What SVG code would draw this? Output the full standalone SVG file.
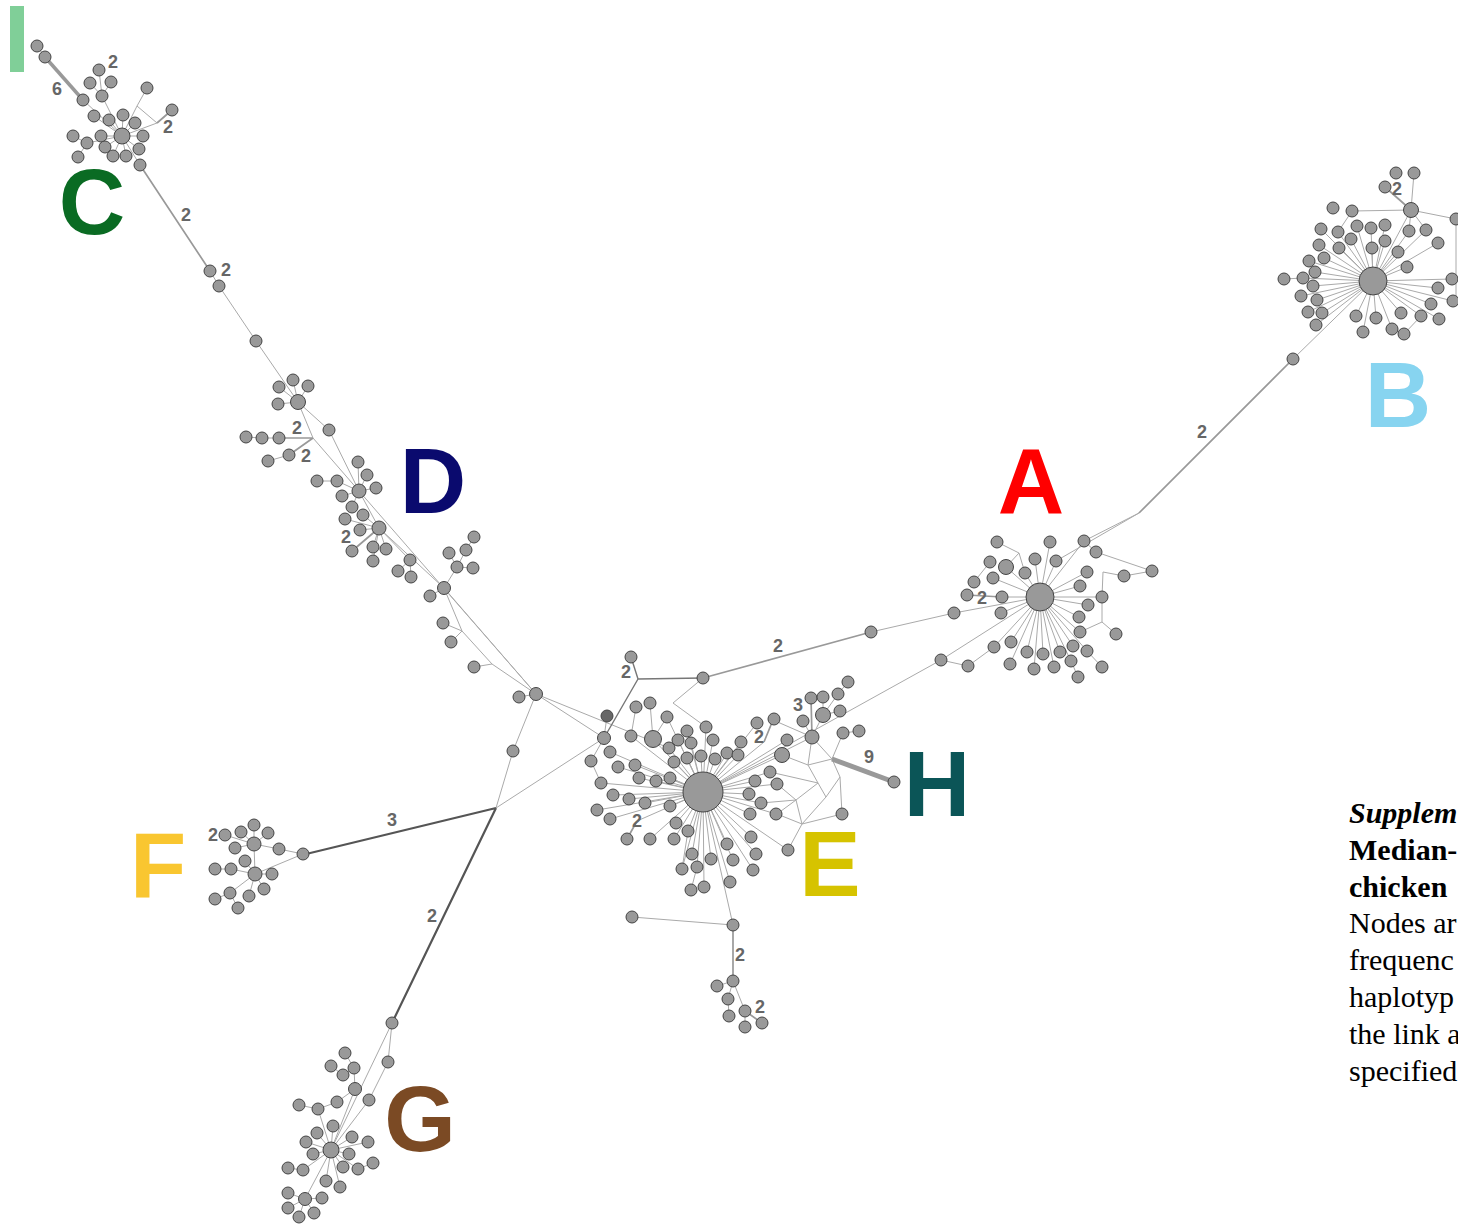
<svg xmlns="http://www.w3.org/2000/svg" width="1458" height="1225" viewBox="0 0 1458 1225">
<style>
.l{stroke:#aaa;stroke-width:1;fill:none}
.lm{stroke:#999;stroke-width:1.7;fill:none}
.lg{stroke:#777;stroke-width:1.4;fill:none}
.ld{stroke:#555;stroke-width:2.2;fill:none}
.lt{stroke:#999;stroke-width:3.5;fill:none}
.lh{stroke:#999;stroke-width:5;fill:none}
.n{fill:#999;stroke:#444;stroke-width:1}
.w{font-family:"Liberation Sans",Arial,sans-serif;font-weight:bold;font-size:18px;fill:#666;text-anchor:middle}
.big{font-family:"Liberation Sans",Arial,sans-serif;font-weight:bold;font-size:92px;text-anchor:middle}
.cap{font-family:"Liberation Serif","Times New Roman",serif;font-size:30px;fill:#000}
</style>
<rect width="1458" height="1225" fill="#fff"/>
<g id="connectors">
<!-- C -->
<path class="l" d="M37,46L45,57M83,100L122,136M99,70L102,96M90,83L102,96M111,82L102,96M102,96L122,136M122,136L94,116M122,136L109,120M122,136L123,115M122,136L135,123M122,136L101,136M122,136L143,136M122,136L87,143M122,136L105,147M122,136L139,149M122,136L113,156M122,136L126,156M122,136L140,165M73,136L87,143M78,157L87,143M147,88L137,106L157,123M137,106L122,136M122,136L157,123M210,271L219,286L256,341L298,402"/>
<path class="lt" d="M45,57L83,100"/>
<path class="lm" d="M157,123L172,110M140,165L210,271"/>
<!-- D -->
<path class="l" d="M298,402L279,387M298,402L293,380M298,402L308,386M298,402L278,404M298,402L329,430L359,491M298,402L313,438L359,491M279,438L262,438L246,437M289,455L268,461M359,491L358,462M359,491L367,475M359,491L376,488M359,491L337,481M359,491L342,496M359,491L352,507M317,481L337,481M359,491L379,528M379,528L363,515M379,528L345,519M379,528L360,530M379,528L373,547M379,528L386,549M379,528L373,561M379,528L444,588M359,491L536,694M379,528L410,560M410,560L398,571M410,560L411,577M444,588L430,596M444,588L457,567M457,567L449,553M457,567L466,550L474,537M457,567L473,568M444,588L536,694M444,588L462,631L492,664L536,694M462,631L443,623M462,631L451,642M492,664L474,667"/>
<path class="lm" d="M313,438L279,438M313,438L289,455M379,528L352,551"/>
<!-- central -->
<path class="l" d="M536,694L519,697M536,694L513,751L496,808M536,694L604,738M536,694L669,748M496,808L604,738M871,632L954,613L1040,597M703,678L673,703L706,727M941,660L703,792"/>
<path class="ld" d="M496,808L302,855M496,808L392,1023"/>
<path class="lg" d="M604,738L638,679L631,657M638,679L703,678"/>
<path class="lm" d="M703,678L871,632"/>
<!-- E -->
<path class="l" d="M703,792L687,731M703,792L706,727M703,792L691,743M703,792L713,740M703,792L741,742M703,792L678,740M703,792L669,748M703,792L674,762M703,792L687,758M703,792L701,756M703,792L715,759M703,792L727,753M703,792L738,755M703,792L770,772M703,792L777,784M703,792L755,781M703,792L639,778M703,792L656,781M703,792L670,778M703,792L601,783M703,792L613,795M703,792L629,799M703,792L645,803M703,792L670,806M703,792L749,794M703,792L761,803M703,792L676,823M703,792L688,831M703,792L750,814M703,792L776,814M703,792L674,839M703,792L751,837M703,792L727,844M703,792L692,854M703,792L711,859M703,792L733,860M703,792L756,854M703,792L697,867M703,792L682,869M703,792L753,870M703,792L704,887M703,792L730,882M703,792L788,850M703,792L764,742M703,792L757,723M703,792L653,739M703,792L618,767M703,792L610,752M703,792L635,765M703,792L597,810M703,792L610,819M703,792L650,839M703,792L812,737M703,792L782,755M703,792L787,740M703,792L631,736M703,792L667,717M607,716L604,738M636,707L631,736M650,703L653,739M667,717L653,739M591,761L604,738M601,783L591,761M691,890L697,867M682,869L688,831M703,792L637,821M703,792L733,925L733,925M632,917L733,925M823,697L823,715M848,682L838,694L823,715M840,711L823,715M823,715L812,737M803,721L812,737M773,720L812,737M812,737L832,759M843,733L832,759M859,731L843,733M812,737L808,765L832,759L840,777L842,814M808,765L818,783L826,797L840,777M818,783L796,800L777,814M796,800L802,824M826,797L802,824L842,814M802,824L777,814M782,755L808,765M770,772L818,783M777,784L796,800M761,803L796,800M802,824L788,850"/>
<path class="lm" d="M627,839L637,821M773,720L764,742M811,698L812,737"/>
<path class="lh" d="M832,759L894,782"/>
<!-- E bottom -->
<path class="l" d="M733,981L717,986M733,981L728,999L729,1016M733,981L745,1011M745,1011L745,1027"/>
<path class="lm" d="M733,925L733,981M745,1011L762,1023"/>
<!-- A -->
<path class="l" d="M1040,597L1035,559M1040,597L1050,542M1040,597L1056,561M1040,597L1025,573M1040,597L1006,567M1040,597L993,578M1040,597L1002,597M1040,597L1001,613M1040,597L1080,586M1040,597L1087,572M1040,597L1084,541M1040,597L1088,605M1040,597L1079,617M1040,597L1080,632M1040,597L994,647M1040,597L1011,642M1040,597L1027,652M1040,597L1043,654M1040,597L1060,652M1040,597L1073,646M1040,597L1087,651M1040,597L1010,664M1040,597L1034,669M1040,597L1054,667M1040,597L1071,661M1040,597L1102,597M1040,597L941,660M997,542L1019,553L1025,573M1019,553L1006,567M990,562L974,582M1102,597L1103,572L1124,576L1152,571M1102,597L1102,622L1116,634M1080,632L1102,622M1078,677L1071,661M1102,667L1087,651M941,660L968,666L994,647M1096,552L1152,571M1139,513L1084,541M1139,513L1056,561M1084,541L1096,552M1293,359L1373,281"/>
<path class="lm" d="M967,595L1002,597M1139,513L1293,359"/>
<!-- B -->
<path class="l" d="M1373,281L1411,210M1373,281L1321,229M1373,281L1338,232M1373,281L1357,226M1373,281L1371,228M1373,281L1385,225M1373,281L1409,231M1373,281L1426,230M1373,281L1351,239M1373,281L1385,241M1373,281L1438,243M1373,281L1319,245M1373,281L1339,248M1373,281L1372,248M1373,281L1398,252M1373,281L1309,261M1373,281L1324,258M1373,281L1315,272M1373,281L1407,267M1373,281L1303,278M1373,281L1313,286M1373,281L1452,279M1373,281L1438,288M1373,281L1301,296M1373,281L1317,300M1373,281L1453,301M1373,281L1431,304M1373,281L1308,312M1373,281L1322,313M1373,281L1356,316M1373,281L1376,318M1373,281L1401,313M1373,281L1421,316M1373,281L1439,319M1373,281L1316,325M1373,281L1363,332M1373,281L1392,329M1411,210L1414,173M1411,210L1352,211M1411,210L1456,219M1411,210L1409,231M1411,210L1426,230M1352,211L1338,232M1284,279L1303,278M1392,329L1404,334L1421,316M1456,219L1456,300"/>
<path class="lm" d="M1385,187L1411,210"/>
<!-- F -->
<path class="l" d="M254,844L225,835M254,844L241,832M254,844L254,825M254,844L268,833M254,844L235,848M254,844L279,849L303,854M254,844L255,874M255,874L245,861M255,874L231,869L215,869M255,874L272,874M255,874L264,889M255,874L249,896M255,874L230,893L215,899M230,893L238,908M255,874L303,854"/>
<!-- G -->
<path class="l" d="M392,1023L388,1062L369,1100L331,1150M392,1023L331,1150M355,1089L354,1068L345,1053M354,1068L343,1075M331,1066L343,1075M355,1089L337,1102L318,1109L299,1105M318,1109L331,1150M355,1089L331,1150M331,1150L333,1126M331,1150L317,1133M331,1150L306,1142M331,1150L313,1154M331,1150L352,1137M331,1150L368,1142M331,1150L349,1154M331,1150L343,1167M331,1150L358,1169L373,1163M331,1150L326,1181M331,1150L340,1187M331,1150L303,1170L288,1168M331,1150L305,1199M305,1199L288,1193M305,1199L322,1198M305,1199L288,1208M305,1199L299,1217M305,1199L314,1213"/>
</g>
<g id="cluster-C">
<circle id="C01" class="n" cx="37" cy="46" r="6"/><circle id="C02" class="n" cx="45" cy="57" r="6"/><circle id="C03" class="n" cx="83" cy="100" r="6"/><circle id="C04" class="n" cx="99" cy="70" r="6"/><circle id="C05" class="n" cx="90" cy="83" r="6"/><circle id="C06" class="n" cx="111" cy="82" r="6"/><circle id="C07" class="n" cx="102" cy="96" r="6"/><circle id="C08" class="n" cx="94" cy="116" r="6"/><circle id="C09" class="n" cx="109" cy="120" r="6"/><circle id="C10" class="n" cx="123" cy="115" r="6"/><circle id="C11" class="n" cx="147" cy="88" r="6"/><circle id="C12" class="n" cx="172" cy="110" r="6"/><circle id="C13" class="n" cx="135" cy="123" r="6"/><circle id="C14" class="n" cx="101" cy="136" r="6"/><circle id="C15" class="n" cx="143" cy="136" r="6"/><circle id="C16" class="n" cx="73" cy="136" r="6"/><circle id="C17" class="n" cx="87" cy="143" r="6"/><circle id="C18" class="n" cx="105" cy="147" r="6"/><circle id="C19" class="n" cx="139" cy="149" r="6"/><circle id="C20" class="n" cx="78" cy="157" r="6"/><circle id="C21" class="n" cx="113" cy="156" r="6"/><circle id="C22" class="n" cx="126" cy="156" r="6"/><circle id="C23" class="n" cx="140" cy="165" r="6"/><circle id="C00" class="n" cx="122" cy="136" r="8"/>
<circle id="CD1" class="n" cx="210" cy="271" r="6"/><circle id="CD2" class="n" cx="219" cy="286" r="6"/><circle id="CD3" class="n" cx="256" cy="341" r="6"/>
</g>
<g id="cluster-D">
<circle id="D01" class="n" cx="279" cy="387" r="6"/><circle id="D02" class="n" cx="293" cy="380" r="6"/><circle id="D03" class="n" cx="308" cy="386" r="6"/><circle id="D04" class="n" cx="278" cy="404" r="6"/><circle id="D00" class="n" cx="298" cy="402" r="7.5"/><circle id="D05" class="n" cx="329" cy="430" r="6"/><circle id="D06" class="n" cx="246" cy="437" r="6"/><circle id="D07" class="n" cx="262" cy="438" r="6"/><circle id="D08" class="n" cx="279" cy="438" r="6"/><circle id="D09" class="n" cx="268" cy="461" r="6"/><circle id="D10" class="n" cx="289" cy="455" r="6"/><circle id="D11" class="n" cx="358" cy="462" r="6"/><circle id="D12" class="n" cx="367" cy="475" r="6"/><circle id="D13" class="n" cx="376" cy="488" r="6"/><circle id="D14" class="n" cx="317" cy="481" r="6"/><circle id="D15" class="n" cx="337" cy="481" r="6"/><circle id="D16" class="n" cx="359" cy="491" r="7"/><circle id="D17" class="n" cx="342" cy="496" r="6"/><circle id="D18" class="n" cx="352" cy="507" r="6"/><circle id="D19" class="n" cx="363" cy="515" r="6"/><circle id="D20" class="n" cx="345" cy="519" r="6"/><circle id="D21" class="n" cx="360" cy="530" r="6"/><circle id="D22" class="n" cx="379" cy="528" r="7"/><circle id="D23" class="n" cx="352" cy="551" r="6"/><circle id="D24" class="n" cx="373" cy="547" r="6"/><circle id="D25" class="n" cx="386" cy="549" r="6"/><circle id="D26" class="n" cx="373" cy="561" r="6"/><circle id="D27" class="n" cx="410" cy="560" r="6"/><circle id="D28" class="n" cx="398" cy="571" r="6"/><circle id="D29" class="n" cx="411" cy="577" r="6"/><circle id="D30" class="n" cx="444" cy="588" r="6.5"/><circle id="D31" class="n" cx="430" cy="596" r="6"/><circle id="D32" class="n" cx="474" cy="537" r="6"/><circle id="D33" class="n" cx="466" cy="550" r="6"/><circle id="D34" class="n" cx="449" cy="553" r="6"/><circle id="D35" class="n" cx="457" cy="567" r="6"/><circle id="D36" class="n" cx="473" cy="568" r="6"/><circle id="D37" class="n" cx="443" cy="623" r="6"/><circle id="D38" class="n" cx="451" cy="642" r="6"/><circle id="D39" class="n" cx="474" cy="667" r="6"/>
</g>
<g id="central">
<circle id="M1" class="n" cx="536" cy="694" r="6.5"/><circle id="M2" class="n" cx="519" cy="697" r="6"/><circle id="M3" class="n" cx="513" cy="751" r="6"/><circle id="M4" class="n" cx="631" cy="657" r="6"/><circle id="M5" class="n" cx="703" cy="678" r="6"/><circle id="M6" class="n" cx="871" cy="632" r="6"/>
</g>
<g id="cluster-E">
<circle id="E00" class="n" cx="703" cy="792" r="20"/>
<circle id="E01" cx="607" cy="716" r="6" fill="#666" stroke="#444"/>
<circle id="E02" class="n" cx="636" cy="707" r="6"/><circle id="E03" class="n" cx="650" cy="703" r="6"/><circle id="E04" class="n" cx="667" cy="717" r="6"/><circle id="E05" class="n" cx="604" cy="738" r="6.5"/><circle id="E06" class="n" cx="631" cy="736" r="6"/><circle id="E07" class="n" cx="653" cy="739" r="8.5"/><circle id="E08" class="n" cx="687" cy="731" r="6"/><circle id="E09" class="n" cx="678" cy="740" r="6"/><circle id="E10" class="n" cx="706" cy="727" r="6"/><circle id="E11" class="n" cx="691" cy="743" r="6"/><circle id="E12" class="n" cx="713" cy="740" r="6"/><circle id="E13" class="n" cx="741" cy="742" r="6"/><circle id="E14" class="n" cx="757" cy="723" r="6"/><circle id="E15" class="n" cx="774" cy="719" r="6"/><circle id="E16" class="n" cx="669" cy="748" r="6"/><circle id="E17" class="n" cx="610" cy="752" r="6"/><circle id="E18" class="n" cx="591" cy="761" r="6"/><circle id="E19" class="n" cx="674" cy="762" r="6"/><circle id="E20" class="n" cx="687" cy="758" r="6"/><circle id="E21" class="n" cx="701" cy="756" r="6"/><circle id="E22" class="n" cx="715" cy="759" r="6"/><circle id="E23" class="n" cx="727" cy="753" r="6"/><circle id="E24" class="n" cx="738" cy="755" r="6"/><circle id="E25" class="n" cx="618" cy="767" r="6"/><circle id="E26" class="n" cx="635" cy="765" r="6"/><circle id="E27" class="n" cx="639" cy="778" r="6"/><circle id="E28" class="n" cx="656" cy="781" r="6"/><circle id="E29" class="n" cx="670" cy="778" r="6"/><circle id="E30" class="n" cx="770" cy="772" r="6"/><circle id="E31" class="n" cx="777" cy="784" r="6"/><circle id="E32" class="n" cx="755" cy="781" r="6"/><circle id="E33" class="n" cx="601" cy="783" r="6"/><circle id="E34" class="n" cx="613" cy="795" r="6"/><circle id="E35" class="n" cx="629" cy="799" r="6"/><circle id="E36" class="n" cx="645" cy="803" r="6"/><circle id="E37" class="n" cx="670" cy="806" r="6"/><circle id="E38" class="n" cx="749" cy="794" r="6"/><circle id="E39" class="n" cx="761" cy="803" r="6"/><circle id="E40" class="n" cx="597" cy="810" r="6"/><circle id="E41" class="n" cx="610" cy="819" r="6"/><circle id="E42" class="n" cx="676" cy="823" r="6"/><circle id="E43" class="n" cx="688" cy="831" r="6"/><circle id="E44" class="n" cx="750" cy="814" r="6"/><circle id="E45" class="n" cx="776" cy="814" r="6"/><circle id="E46" class="n" cx="627" cy="839" r="6"/><circle id="E47" class="n" cx="650" cy="839" r="6"/><circle id="E48" class="n" cx="674" cy="839" r="6"/><circle id="E49" class="n" cx="751" cy="837" r="6"/><circle id="E50" class="n" cx="727" cy="844" r="6"/><circle id="E51" class="n" cx="692" cy="854" r="6"/><circle id="E52" class="n" cx="711" cy="859" r="6"/><circle id="E53" class="n" cx="733" cy="860" r="6"/><circle id="E54" class="n" cx="756" cy="854" r="6"/><circle id="E55" class="n" cx="697" cy="867" r="6"/><circle id="E56" class="n" cx="682" cy="869" r="6"/><circle id="E57" class="n" cx="753" cy="870" r="6"/><circle id="E58" class="n" cx="730" cy="882" r="6"/><circle id="E59" class="n" cx="691" cy="890" r="6"/><circle id="E60" class="n" cx="704" cy="887" r="6"/><circle id="E61" class="n" cx="788" cy="850" r="6"/>
<circle id="E62" class="n" cx="848" cy="682" r="6"/><circle id="E63" class="n" cx="838" cy="694" r="6"/><circle id="E64" class="n" cx="811" cy="698" r="6"/><circle id="E65" class="n" cx="823" cy="697" r="6"/><circle id="E66" class="n" cx="823" cy="715" r="7.5"/><circle id="E67" class="n" cx="840" cy="711" r="6"/><circle id="E68" class="n" cx="803" cy="721" r="6"/><circle id="E69" class="n" cx="812" cy="737" r="7"/><circle id="E70" class="n" cx="843" cy="733" r="6"/><circle id="E71" class="n" cx="859" cy="731" r="6"/><circle id="E72" class="n" cx="787" cy="740" r="6"/><circle id="E73" class="n" cx="782" cy="755" r="7.5"/><circle id="E74" class="n" cx="842" cy="814" r="6"/>
<circle id="E75" class="n" cx="632" cy="917" r="6"/><circle id="E76" class="n" cx="733" cy="925" r="6"/><circle id="E77" class="n" cx="733" cy="981" r="6"/><circle id="E78" class="n" cx="717" cy="986" r="6"/><circle id="E79" class="n" cx="728" cy="999" r="6"/><circle id="E80" class="n" cx="745" cy="1011" r="6"/><circle id="E81" class="n" cx="729" cy="1016" r="6"/><circle id="E82" class="n" cx="745" cy="1027" r="6"/><circle id="E83" class="n" cx="762" cy="1023" r="6"/>
</g>
<g id="cluster-H"><circle id="H01" class="n" cx="894" cy="782" r="6"/></g>
<g id="cluster-A">
<circle id="A00" class="n" cx="1040" cy="597" r="14"/>
<circle id="A01" class="n" cx="997" cy="542" r="6"/><circle id="A02" class="n" cx="1050" cy="542" r="6"/><circle id="A03" class="n" cx="1084" cy="541" r="6"/><circle id="A04" class="n" cx="1096" cy="552" r="6"/><circle id="A05" class="n" cx="990" cy="562" r="6"/><circle id="A06" class="n" cx="1006" cy="567" r="7.5"/><circle id="A07" class="n" cx="1035" cy="559" r="6"/><circle id="A08" class="n" cx="1056" cy="561" r="6"/><circle id="A09" class="n" cx="1025" cy="573" r="6"/><circle id="A10" class="n" cx="993" cy="578" r="6"/><circle id="A11" class="n" cx="974" cy="582" r="6"/><circle id="A12" class="n" cx="967" cy="595" r="6"/><circle id="A13" class="n" cx="1002" cy="597" r="6"/><circle id="A14" class="n" cx="1001" cy="613" r="6"/><circle id="A15" class="n" cx="954" cy="613" r="6"/><circle id="A16" class="n" cx="1087" cy="572" r="6"/><circle id="A17" class="n" cx="1080" cy="586" r="6"/><circle id="A18" class="n" cx="1124" cy="576" r="6"/><circle id="A19" class="n" cx="1152" cy="571" r="6"/><circle id="A20" class="n" cx="1102" cy="597" r="6"/><circle id="A21" class="n" cx="1088" cy="605" r="6"/><circle id="A22" class="n" cx="1079" cy="617" r="6"/><circle id="A23" class="n" cx="1080" cy="632" r="6"/><circle id="A24" class="n" cx="1116" cy="634" r="6"/><circle id="A25" class="n" cx="994" cy="647" r="6"/><circle id="A26" class="n" cx="1011" cy="642" r="6"/><circle id="A27" class="n" cx="1027" cy="652" r="6"/><circle id="A28" class="n" cx="1043" cy="654" r="6"/><circle id="A29" class="n" cx="1060" cy="652" r="6"/><circle id="A30" class="n" cx="1073" cy="646" r="6"/><circle id="A31" class="n" cx="1087" cy="651" r="6"/><circle id="A32" class="n" cx="1010" cy="664" r="6"/><circle id="A33" class="n" cx="1034" cy="669" r="6"/><circle id="A34" class="n" cx="1054" cy="667" r="6"/><circle id="A35" class="n" cx="1071" cy="661" r="6"/><circle id="A36" class="n" cx="1102" cy="667" r="6"/><circle id="A37" class="n" cx="1078" cy="677" r="6"/><circle id="A38" class="n" cx="968" cy="666" r="6"/><circle id="A39" class="n" cx="941" cy="660" r="6"/>
</g>
<g id="cluster-B">
<circle id="B00" class="n" cx="1373" cy="281" r="14"/><circle id="B01" class="n" cx="1411" cy="210" r="7.5"/>
<circle id="B02" class="n" cx="1396" cy="173" r="6"/><circle id="B03" class="n" cx="1414" cy="173" r="6"/><circle id="B04" class="n" cx="1385" cy="187" r="6"/><circle id="B05" class="n" cx="1333" cy="208" r="6"/><circle id="B06" class="n" cx="1352" cy="211" r="6"/><circle id="B07" class="n" cx="1456" cy="219" r="6"/><circle id="B08" class="n" cx="1321" cy="229" r="6"/><circle id="B09" class="n" cx="1338" cy="232" r="6"/><circle id="B10" class="n" cx="1357" cy="226" r="6"/><circle id="B11" class="n" cx="1371" cy="228" r="6"/><circle id="B12" class="n" cx="1385" cy="225" r="6"/><circle id="B13" class="n" cx="1409" cy="231" r="6"/><circle id="B14" class="n" cx="1426" cy="230" r="6"/><circle id="B15" class="n" cx="1351" cy="239" r="6"/><circle id="B16" class="n" cx="1385" cy="241" r="6"/><circle id="B17" class="n" cx="1438" cy="243" r="6"/><circle id="B18" class="n" cx="1319" cy="245" r="6"/><circle id="B19" class="n" cx="1339" cy="248" r="6"/><circle id="B20" class="n" cx="1372" cy="248" r="6"/><circle id="B21" class="n" cx="1398" cy="252" r="6"/><circle id="B22" class="n" cx="1309" cy="261" r="6"/><circle id="B23" class="n" cx="1324" cy="258" r="6"/><circle id="B24" class="n" cx="1315" cy="272" r="6"/><circle id="B25" class="n" cx="1407" cy="267" r="6"/><circle id="B26" class="n" cx="1284" cy="279" r="6"/><circle id="B27" class="n" cx="1303" cy="278" r="6"/><circle id="B28" class="n" cx="1313" cy="286" r="6"/><circle id="B29" class="n" cx="1452" cy="279" r="6"/><circle id="B30" class="n" cx="1438" cy="288" r="6"/><circle id="B31" class="n" cx="1301" cy="296" r="6"/><circle id="B32" class="n" cx="1317" cy="300" r="6"/><circle id="B33" class="n" cx="1453" cy="301" r="6"/><circle id="B34" class="n" cx="1431" cy="304" r="6"/><circle id="B35" class="n" cx="1308" cy="312" r="6"/><circle id="B36" class="n" cx="1322" cy="313" r="6"/><circle id="B37" class="n" cx="1356" cy="316" r="6"/><circle id="B38" class="n" cx="1376" cy="318" r="6"/><circle id="B39" class="n" cx="1401" cy="313" r="6"/><circle id="B40" class="n" cx="1421" cy="316" r="6"/><circle id="B41" class="n" cx="1439" cy="319" r="6"/><circle id="B42" class="n" cx="1316" cy="325" r="6"/><circle id="B43" class="n" cx="1363" cy="332" r="6"/><circle id="B44" class="n" cx="1392" cy="329" r="6"/><circle id="B45" class="n" cx="1404" cy="334" r="6"/>
<circle id="B46" class="n" cx="1293" cy="359" r="6"/>
</g>
<g id="cluster-F">
<circle id="F01" class="n" cx="225" cy="835" r="6"/><circle id="F02" class="n" cx="241" cy="832" r="6"/><circle id="F03" class="n" cx="254" cy="825" r="6"/><circle id="F04" class="n" cx="268" cy="833" r="6"/><circle id="F00" class="n" cx="254" cy="844" r="7"/><circle id="F05" class="n" cx="235" cy="848" r="6"/><circle id="F06" class="n" cx="279" cy="849" r="6"/><circle id="F07" class="n" cx="303" cy="854" r="6"/><circle id="F08" class="n" cx="245" cy="861" r="6"/><circle id="F09" class="n" cx="255" cy="874" r="7"/><circle id="F10" class="n" cx="215" cy="869" r="6"/><circle id="F11" class="n" cx="231" cy="869" r="6"/><circle id="F12" class="n" cx="272" cy="874" r="6"/><circle id="F13" class="n" cx="264" cy="889" r="6"/><circle id="F14" class="n" cx="230" cy="893" r="6"/><circle id="F15" class="n" cx="249" cy="896" r="6"/><circle id="F16" class="n" cx="215" cy="899" r="6"/><circle id="F17" class="n" cx="238" cy="908" r="6"/>
</g>
<g id="cluster-G">
<circle id="G01" class="n" cx="392" cy="1023" r="6"/><circle id="G02" class="n" cx="388" cy="1062" r="6"/><circle id="G03" class="n" cx="345" cy="1053" r="6"/><circle id="G04" class="n" cx="331" cy="1066" r="6"/><circle id="G05" class="n" cx="354" cy="1068" r="6"/><circle id="G06" class="n" cx="343" cy="1075" r="6"/><circle id="G07" class="n" cx="355" cy="1089" r="6.5"/><circle id="G08" class="n" cx="369" cy="1100" r="6"/><circle id="G09" class="n" cx="299" cy="1105" r="6"/><circle id="G10" class="n" cx="318" cy="1109" r="6"/><circle id="G11" class="n" cx="337" cy="1102" r="6"/><circle id="G12" class="n" cx="333" cy="1126" r="6"/><circle id="G13" class="n" cx="317" cy="1133" r="6"/><circle id="G14" class="n" cx="306" cy="1142" r="6"/><circle id="G00" class="n" cx="331" cy="1150" r="8"/><circle id="G15" class="n" cx="352" cy="1137" r="6"/><circle id="G16" class="n" cx="368" cy="1142" r="6"/><circle id="G17" class="n" cx="313" cy="1154" r="6"/><circle id="G18" class="n" cx="349" cy="1154" r="6"/><circle id="G19" class="n" cx="288" cy="1168" r="6"/><circle id="G20" class="n" cx="303" cy="1170" r="6"/><circle id="G21" class="n" cx="343" cy="1167" r="6"/><circle id="G22" class="n" cx="358" cy="1169" r="6"/><circle id="G23" class="n" cx="373" cy="1163" r="6"/><circle id="G24" class="n" cx="326" cy="1181" r="6"/><circle id="G25" class="n" cx="340" cy="1187" r="6"/><circle id="G26" class="n" cx="288" cy="1193" r="6"/><circle id="G27" class="n" cx="305" cy="1199" r="6.5"/><circle id="G28" class="n" cx="322" cy="1198" r="6"/><circle id="G29" class="n" cx="288" cy="1208" r="6"/><circle id="G30" class="n" cx="299" cy="1217" r="6"/><circle id="G31" class="n" cx="314" cy="1213" r="6"/>
</g>
<g id="edge-labels">
<text class="w" x="113" y="68">2</text><text class="w" x="57" y="95">6</text><text class="w" x="168" y="133">2</text><text class="w" x="186" y="221">2</text><text class="w" x="226" y="276">2</text>
<text class="w" x="297" y="434">2</text><text class="w" x="306" y="462">2</text><text class="w" x="346" y="543">2</text>
<text class="w" x="626" y="678">2</text><text class="w" x="778" y="652">2</text><text class="w" x="392" y="826">3</text><text class="w" x="432" y="922">2</text>
<text class="w" x="759" y="743">2</text><text class="w" x="637" y="827">2</text><text class="w" x="798" y="711">3</text><text class="w" x="869" y="763">9</text>
<text class="w" x="740" y="961">2</text><text class="w" x="760" y="1013">2</text>
<text class="w" x="982" y="604">2</text><text class="w" x="1202" y="438">2</text><text class="w" x="1397" y="195">2</text><text class="w" x="213" y="841">2</text>
</g>
<g id="group-labels">
<rect id="label-I" x="10" y="6" width="14" height="66" fill="#80cf98"/>
<text class="big" x="92" y="234" fill="#0a6b23">C</text>
<text class="big" x="433" y="513" fill="#0a0a6e">D</text>
<text class="big" x="1031" y="513" fill="#ff0000">A</text>
<text class="big" x="1398" y="427" fill="#87d4f0">B</text>
<text class="big" x="937" y="816" fill="#0b5557">H</text>
<text class="big" x="830" y="896" fill="#d6c300">E</text>
<text class="big" x="158" y="897" fill="#f9c630">F</text>
<text class="big" x="420" y="1151" fill="#7b4a24">G</text>
</g>
<g id="caption">
<text class="cap" x="1349" y="823" font-weight="bold" font-style="italic">Supplem</text>
<text class="cap" x="1349" y="860" font-weight="bold">Median-</text>
<text class="cap" x="1349" y="897" font-weight="bold">chicken</text>
<text class="cap" x="1349" y="933">Nodes ar</text>
<text class="cap" x="1349" y="970">frequenc</text>
<text class="cap" x="1349" y="1007">haplotyp</text>
<text class="cap" x="1349" y="1044">the link a</text>
<text class="cap" x="1349" y="1081">specified</text>
</g>
</svg>
